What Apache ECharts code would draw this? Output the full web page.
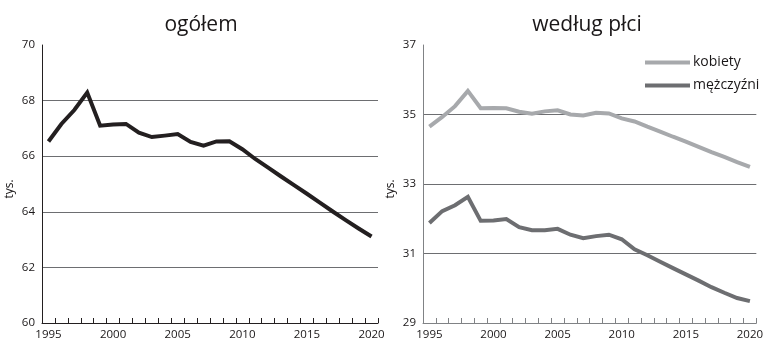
<!DOCTYPE html>
<html>
<head>
<meta charset="utf-8">
<script src="https://cdn.jsdelivr.net/npm/echarts@6/dist/echarts.min.js"></script>
<style>
  html, body { margin: 0; padding: 0; background: #ffffff; }
  #chart { width: 766px; height: 343px; }
</style>
</head>
<body>
<div id="chart"></div>
<script>
const years = ['1995','1996','1997','1998','1999','2000','2001','2002','2003','2004','2005','2006','2007','2008','2009','2010','2011','2012','2013','2014','2015','2016','2017','2018','2019','2020'];
const ogolem = [66.53,67.16,67.66,68.29,67.10,67.14,67.16,66.85,66.69,66.74,66.80,66.51,66.38,66.53,66.54,66.25,65.90,65.59,65.27,64.96,64.65,64.33,64.01,63.70,63.40,63.11];
const kobiety = [34.65,34.93,35.24,35.68,35.18,35.19,35.18,35.08,35.02,35.09,35.12,35.00,34.97,35.05,35.03,34.89,34.80,34.65,34.51,34.36,34.22,34.07,33.92,33.78,33.63,33.49];
const mezczyzni = [31.88,32.22,32.39,32.63,31.94,31.95,31.99,31.76,31.67,31.67,31.71,31.54,31.44,31.50,31.54,31.41,31.12,30.95,30.76,30.58,30.40,30.22,30.03,29.87,29.72,29.63];
const titles = ['ogółem', 'według płci'];
const seriesNames = ['ogółem', 'kobiety', 'mężczyźni'];
const unitLabel = 'tys.';

const FONT = '"Open Sans", "DejaVu Sans", sans-serif';
const TXT = '#1a1718';

function xAxis(gi, color) {
  return {
    type: 'category', gridIndex: gi, data: years, boundaryGap: true,
    axisLine: { show: true, lineStyle: { color: color, width: 1 } },
    axisTick: { show: true, inside: true, length: 5, interval: 0, lineStyle: { color: color, width: 1 } },
    axisLabel: { interval: 0, margin: 6, fontSize: 11.5, color: TXT, fontFamily: FONT,
      formatter: function (v, i) { return i % 5 === 0 ? v : ''; } },
    splitLine: { show: false }
  };
}
function yAxis(gi, min, max, color, gridColor) {
  return {
    type: 'value', gridIndex: gi, min: min, max: max, interval: 2,
    name: unitLabel, nameLocation: 'middle', nameRotate: 90, nameGap: 26,
    nameTextStyle: { fontSize: 12, color: TXT, fontFamily: FONT, padding: [0, 0, 0, -10] },
    axisLine: { show: true, lineStyle: { color: color, width: 1 } },
    axisTick: { show: false },
    axisLabel: { margin: 7, fontSize: 11.5, color: TXT, fontFamily: FONT },
    splitLine: { show: true, showMinLine: false, showMaxLine: false, lineStyle: { color: gridColor, width: 1 } }
  };
}

const chart = echarts.init(document.getElementById('chart'), null, { renderer: 'canvas' });
chart.setOption({
  animation: false,
  backgroundColor: '#ffffff',
  textStyle: { fontFamily: FONT },
  grid: [
    { left: 42, top: 45, width: 336, height: 278 },
    { left: 423, top: 45, width: 337, height: 278 }
  ],
  xAxis: [xAxis(0, '#231f20'), xAxis(1, '#808285')],
  yAxis: [yAxis(0, 60, 70, '#231f20', '#6d6e71'), yAxis(1, 29, 37, '#808285', '#6d6e71')],
  legend: {
    data: [seriesNames[1], seriesNames[2]],
    orient: 'vertical', left: 640, top: 49,
    icon: 'rect', itemWidth: 45, itemHeight: 4, itemGap: 6,
    textStyle: { fontSize: 14, color: TXT, fontFamily: FONT, lineHeight: 17, padding: [0, 0, 0, -2] }
  },
  graphic: [
    { type: 'text', x: 201, y: 25, style: { text: titles[0], fontSize: 21, fontFamily: FONT, fill: TXT, textAlign: 'center', textVerticalAlign: 'middle' } },
    { type: 'text', x: 587, y: 25, style: { text: titles[1], fontSize: 21, fontFamily: FONT, fill: TXT, textAlign: 'center', textVerticalAlign: 'middle' } }
  ],
  series: [
    { name: seriesNames[0], type: 'line', xAxisIndex: 0, yAxisIndex: 0, data: ogolem, showSymbol: false, symbol: 'none',
      lineStyle: { color: '#231f20', width: 4, join: 'miter' }, itemStyle: { color: '#231f20' } },
    { name: seriesNames[1], type: 'line', xAxisIndex: 1, yAxisIndex: 1, data: kobiety, showSymbol: false, symbol: 'none',
      lineStyle: { color: '#a7a9ac', width: 4, join: 'miter' }, itemStyle: { color: '#a7a9ac' } },
    { name: seriesNames[2], type: 'line', xAxisIndex: 1, yAxisIndex: 1, data: mezczyzni, showSymbol: false, symbol: 'none',
      lineStyle: { color: '#6d6e71', width: 4, join: 'miter' }, itemStyle: { color: '#6d6e71' } }
  ]
});
</script>
</body>
</html>
